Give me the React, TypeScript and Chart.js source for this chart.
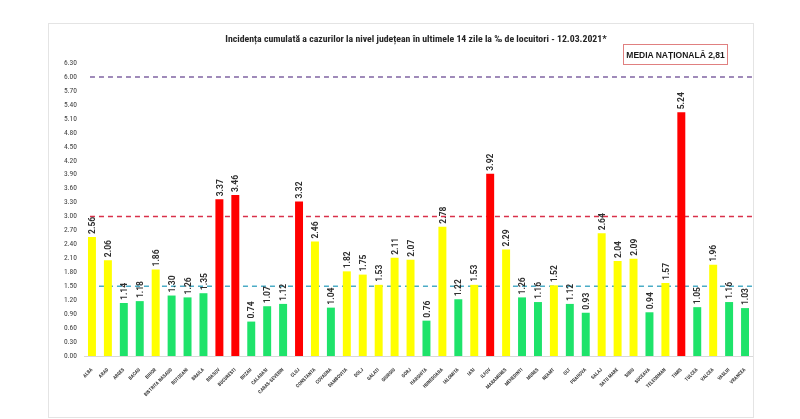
import { useEffect, useRef } from "react";
import { Chart, registerables } from "chart.js";

Chart.register(...registerables);

const counties = [
  "ALBA", "ARAD", "ARGES", "BACAU", "BIHOR", "BISTRITA NASAUD", "BOTOSANI",
  "BRAILA", "BRASOV", "BUCURESTI", "BUZAU", "CALARASI", "CARAS-SEVERIN", "CLUJ",
  "CONSTANTA", "COVASNA", "DAMBOVITA", "DOLJ", "GALATI", "GIURGIU", "GORJ",
  "HARGHITA", "HUNEDOARA", "IALOMITA", "IASI", "ILFOV", "MARAMURES", "MEHEDINTI",
  "MURES", "NEAMT", "OLT", "PRAHOVA", "SALAJ", "SATU MARE", "SIBIU", "SUCEAVA",
  "TELEORMAN", "TIMIS", "TULCEA", "VALCEA", "VASLUI", "VRANCEA",
];

const incidence = [
  2.56, 2.06, 1.14, 1.18, 1.86, 1.3, 1.26, 1.35, 3.37, 3.46, 0.74, 1.07, 1.12,
  3.32, 2.46, 1.04, 1.82, 1.75, 1.53, 2.11, 2.07, 0.76, 2.78, 1.22, 1.53, 3.92,
  2.29, 1.26, 1.16, 1.52, 1.12, 0.93, 2.64, 2.04, 2.09, 0.94, 1.57, 5.24, 1.05,
  1.96, 1.16, 1.03,
];

// y axis runs 0.00 .. 6.30 in steps of 0.30
const yMax = 6.3;
const yStep = 0.3;

// dashed reference lines
const thresholds = [6.0, 3.0, 1.5];
const thresholdColors = ["#8064a2", "#d9304a", "#4bacc6"];

const nationalAverage = "2,81";
const title =
  "Incidența cumulată a cazurilor la nivel județean în ultimele 14 zile la ‰ de locuitori - 12.03.2021*";

const GREEN = "#1ee36a";
const YELLOW = "#ffff00";
const RED = "#ff0000";

function barColor(v: number) {
  if (v > 3) return RED;
  if (v >= 1.5) return YELLOW;
  return GREEN;
}

const FONT = "'Liberation Sans Narrow', 'Roboto Condensed', Roboto, sans-serif";

const thresholdLines = {
  id: "thresholdLines",
  beforeDatasetsDraw(chart: any) {
    const { ctx, chartArea } = chart;
    const x = chart.scales.x;
    const y = chart.scales.y;
    const start = x.getPixelForValue(0) - 2;
    ctx.save();
    ctx.lineWidth = 1.5;
    ctx.setLineDash([5, 4]);
    thresholds.forEach((t, i) => {
      const py = y.getPixelForValue(t);
      ctx.strokeStyle = thresholdColors[i];
      ctx.beginPath();
      ctx.moveTo(start, py);
      ctx.lineTo(chartArea.right, py);
      ctx.stroke();
    });
    ctx.restore();
  },
};

const valueLabels = {
  id: "valueLabels",
  afterDatasetsDraw(chart: any) {
    const { ctx } = chart;
    const meta = chart.getDatasetMeta(0);
    ctx.save();
    ctx.font = "bold 8.5px Roboto, sans-serif";
    ctx.fillStyle = "#303030";
    ctx.textAlign = "left";
    ctx.textBaseline = "middle";
    meta.data.forEach((bar: any, i: number) => {
      ctx.save();
      ctx.translate(bar.x + 1, bar.y - 3);
      ctx.rotate(-Math.PI / 2);
      ctx.fillText(incidence[i].toFixed(2), 0, 0);
      ctx.restore();
    });
    ctx.restore();
  },
};

function IncidenceChart() {
  const canvasRef = useRef<HTMLCanvasElement>(null);

  useEffect(() => {
    if (!canvasRef.current) return;
    const chart = new Chart(canvasRef.current, {
      type: "bar",
      data: {
        labels: counties,
        datasets: [
          {
            data: incidence,
            backgroundColor: incidence.map(barColor),
            categoryPercentage: 1,
            barPercentage: 0.5,
          },
        ],
      },
      options: {
        animation: false,
        responsive: true,
        maintainAspectRatio: false,
        layout: { padding: { top: 39 } },
        plugins: {
          legend: { display: false },
          tooltip: { enabled: false },
        },
        scales: {
          x: {
            grid: { display: false },
            border: { display: true, color: "#d9d9d9" },
            ticks: {
              autoSkip: false,
              minRotation: 45,
              maxRotation: 45,
              padding: 3,
              color: "#404040",
              font: { family: FONT, size: 5, weight: "bold" },
            },
            afterFit: (s: any) => {
              s.height = 61;
            },
          },
          y: {
            min: 0,
            max: yMax,
            grid: { display: false, drawTicks: false },
            border: { display: false },
            ticks: {
              stepSize: yStep,
              maxTicksLimit: 30,
              padding: 7,
              color: "#404040",
              font: { family: FONT, size: 7.5 },
              callback: (v: any) => Number(v).toFixed(2),
            },
            afterFit: (s: any) => {
              s.width = 35;
            },
          },
        },
      },
      plugins: [thresholdLines, valueLabels],
    });
    return () => chart.destroy();
  }, []);

  return <canvas ref={canvasRef} />;
}

export default function App() {
  return (
    <div
      style={{
        position: "absolute",
        left: 0,
        top: 0,
        width: 800,
        height: 419,
        background: "#fff",
        overflow: "hidden",
      }}
    >
      <div
        style={{
          position: "absolute",
          left: 48,
          top: 23,
          width: 704,
          height: 393,
          border: "1px solid #e4e4e4",
        }}
      >
        <div style={{ position: "absolute", left: 0, top: 0, width: 704, height: 393 }}>
          <IncidenceChart />
        </div>
        <div
          style={{
            position: "absolute",
            left: 0,
            top: 9,
            width: 734,
            lineHeight: "12px",
            textAlign: "center",
            fontFamily: FONT,
            fontWeight: "bold",
            fontSize: 9.8,
            color: "#262626",
            whiteSpace: "nowrap",
          }}
        >
          {title}
        </div>
        <div
          style={{
            position: "absolute",
            left: 574,
            top: 20,
            width: 103,
            height: 19,
            border: "1px solid #e08080",
            display: "flex",
            alignItems: "center",
            justifyContent: "center",
            fontFamily: "'Liberation Sans', Arial, sans-serif",
            fontWeight: "bold",
            fontSize: 8.5,
            color: "#1a1a1a",
            whiteSpace: "pre",
          }}
        >
          {`MEDIA NAȚIONALĂ ${nationalAverage}`}
        </div>
      </div>
    </div>
  );
}
